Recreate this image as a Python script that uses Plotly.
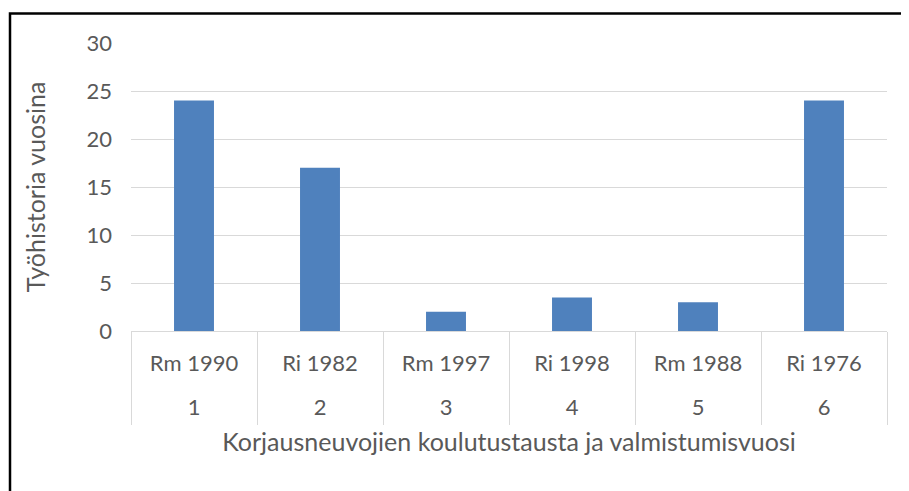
import plotly.graph_objects as go

# Data
group_numbers = ["1", "2", "3", "4", "5", "6"]
background_labels = ["Rm 1990", "Ri 1982", "Rm 1997", "Ri 1998", "Rm 1988", "Ri 1976"]
work_years = [24, 17, 2, 3.5, 3, 24]

y_ticks = [0, 5, 10, 15, 20, 25, 30]

x_title = "Korjausneuvojien koulutustausta ja valmistumisvuosi"
y_title = "Työhistoria vuosina"

FONT = "Lato"
TXT = "#595959"
GRID = "#D9D9D9"
BAR = "#4F81BD"
TICK_SIZE = 22
TITLE_SIZE = 25

W, H = 901, 483
L, R, T, B = 123, 22, 35, 160

fig = go.Figure()
fig.add_trace(go.Bar(
    x=background_labels,
    y=work_years,
    marker=dict(color=BAR, line=dict(width=0)),
    showlegend=False,
    xaxis="x", yaxis="y",
))
# helper (no visible marks) so that the outer category axis is drawn
fig.add_trace(go.Scatter(
    x=group_numbers,
    y=[None] * len(group_numbers),
    mode="markers",
    showlegend=False, hoverinfo="skip",
    xaxis="x2", yaxis="y",
))

pw = W - L - R
ph = H - T - B
cat_range = [-0.5, len(background_labels) - 0.5]

fig.update_layout(
    width=W, height=H,
    margin=dict(l=L, r=R, t=T, b=B, autoexpand=False),
    paper_bgcolor="white", plot_bgcolor="white",
    font=dict(family=FONT, size=TICK_SIZE, color=TXT),
    bargap=0.683,
    xaxis=dict(
        type="category",
        categoryorder="array", categoryarray=background_labels,
        range=cat_range,
        showline=True, linecolor=GRID, linewidth=1,
        showgrid=False,
        ticks="outside", tickson="boundaries", ticklen=93,
        tickcolor=GRID, tickwidth=1,
        ticklabelstandoff=13,
        tickfont=dict(family=FONT, size=TICK_SIZE, color=TXT),
        automargin=False,
    ),
    xaxis2=dict(
        type="category",
        categoryorder="array", categoryarray=group_numbers,
        range=cat_range,
        overlaying="x", anchor="y", side="bottom",
        showline=False, showgrid=False, zeroline=False,
        ticks="",
        ticklabelstandoff=61,
        tickfont=dict(family=FONT, size=TICK_SIZE, color=TXT),
        title=dict(text=x_title, font=dict(family=FONT, size=TITLE_SIZE, color=TXT), standoff=14),
        automargin=False,
    ),
    yaxis=dict(
        range=[0, 30],
        tickvals=y_ticks,
        showgrid=True, gridcolor=GRID, gridwidth=1,
        zeroline=False, showline=False,
        ticks="",
        ticklabelstandoff=18,
        tickfont=dict(family=FONT, size=TICK_SIZE, color=TXT),
        title=dict(text=y_title, font=dict(family=FONT, size=TITLE_SIZE, color=TXT), standoff=33),
        automargin=False,
    ),
    shapes=[dict(
        type="rect", xref="paper", yref="paper",
        x0=(2 - L) / pw, x1=1.5,
        y0=-1.5, y1=(H - B - 5.5) / ph,
        line=dict(color="black", width=2.5),
        fillcolor="rgba(0,0,0,0)",
        layer="above",
    )],
)

fig.write_html("out.html")
